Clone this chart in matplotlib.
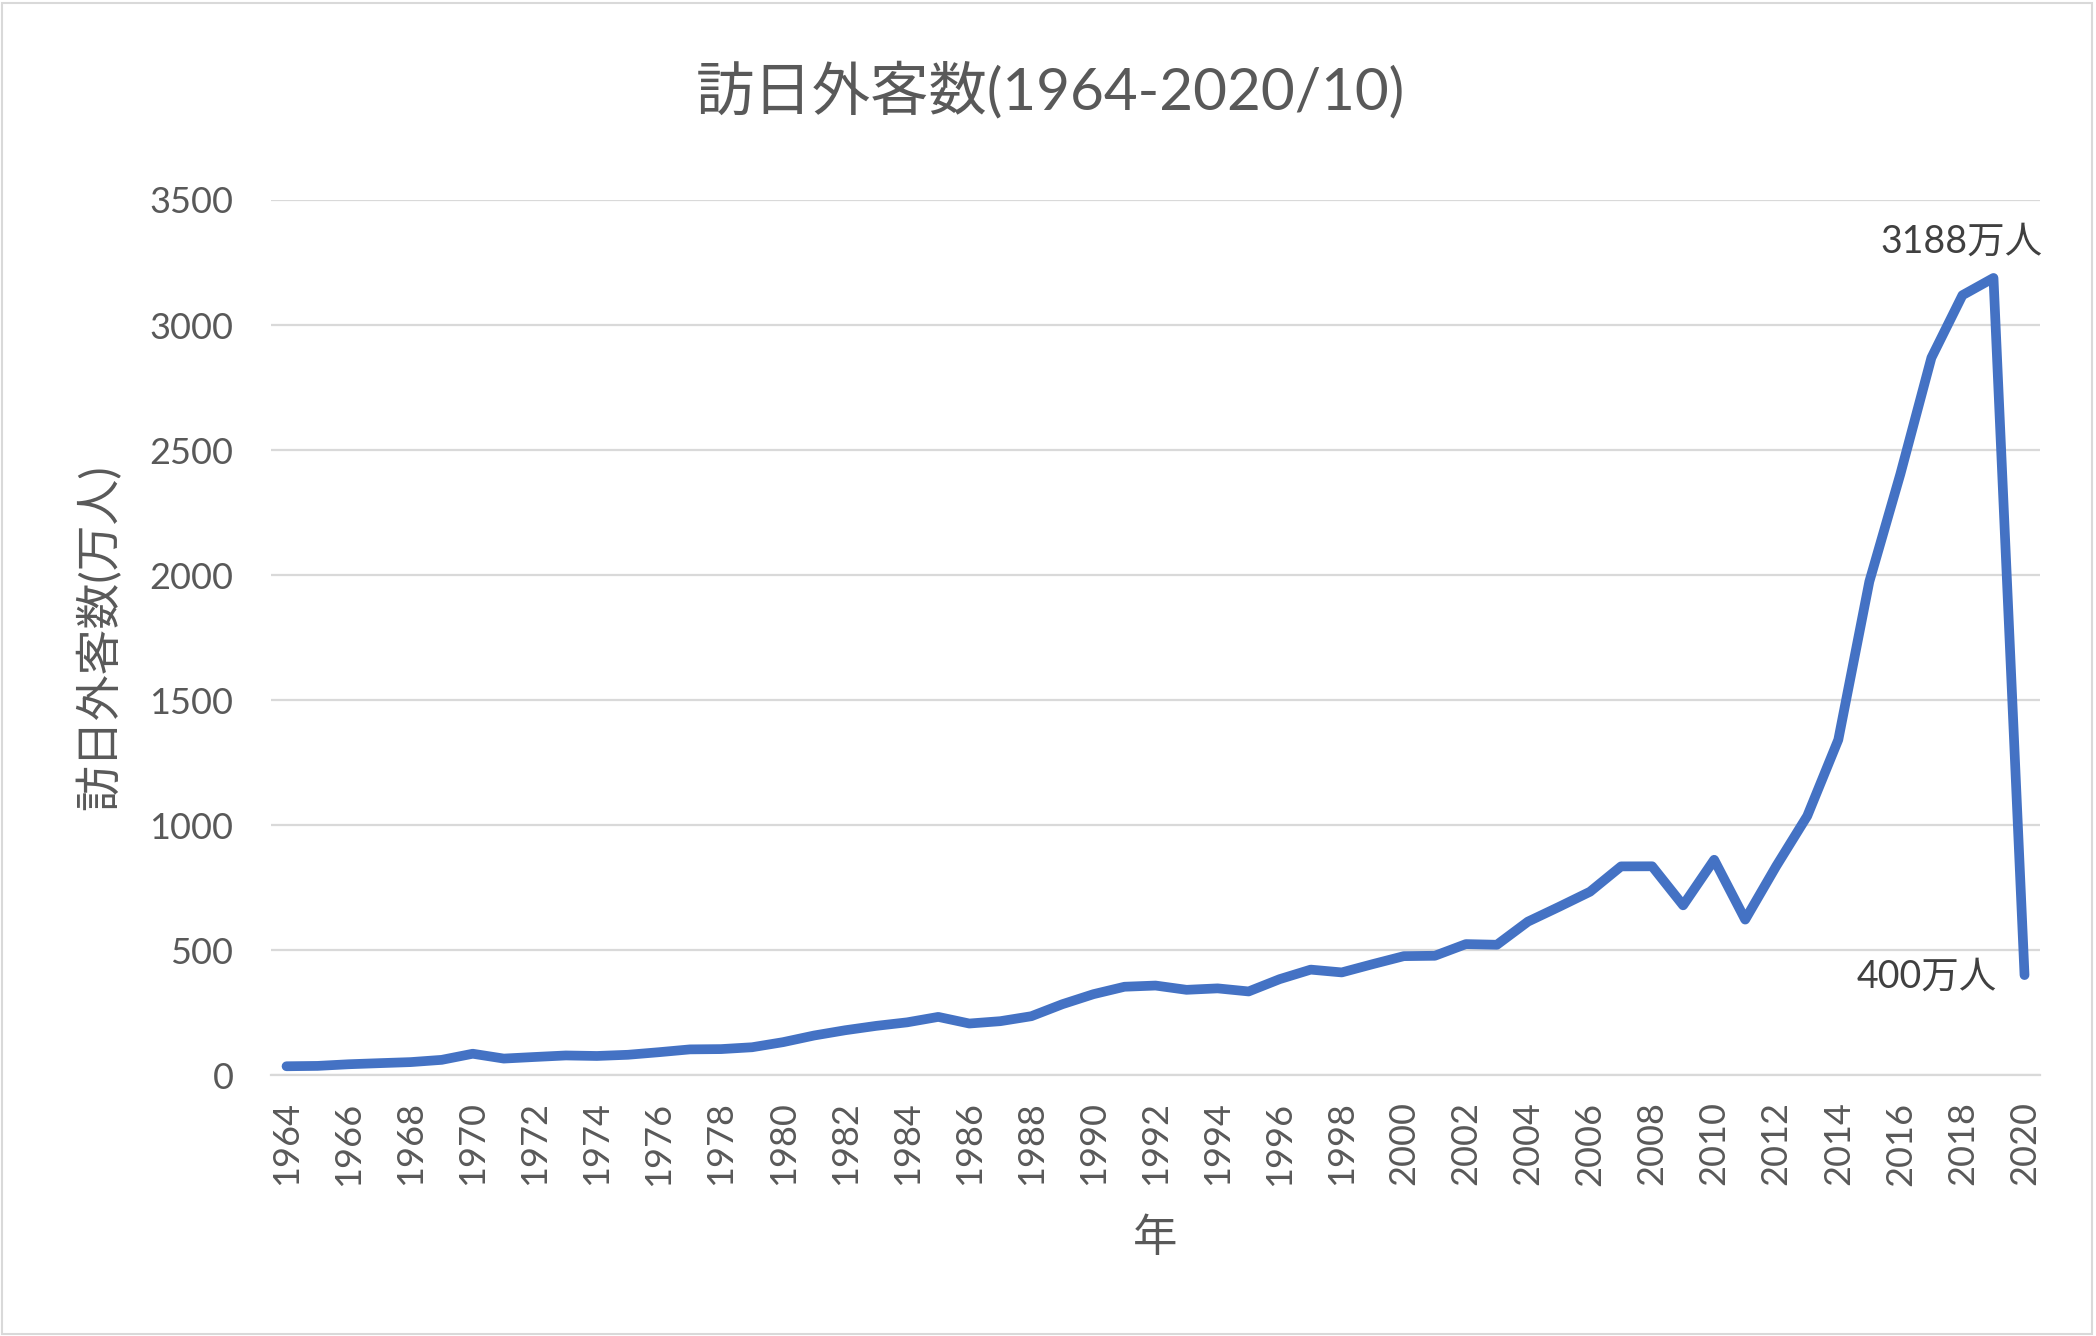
import matplotlib
matplotlib.use("Agg")
import matplotlib.pyplot as plt
from matplotlib.patches import Rectangle

plt.rcParams['font.family'] = ['Lato', 'Noto Sans CJK JP', 'DejaVu Sans']

years = list(range(1964, 2021))
visitors = [35.3, 36.7, 43.3, 47.7, 51.9, 60.9, 85.4, 66.0, 72.4, 78.5,
            76.4, 81.2, 91.5, 102.8, 103.9, 111.3, 131.7, 158.3, 179.3, 196.8,
            211.0, 232.7, 206.2, 215.6, 235.5, 283.5, 323.6, 353.3, 358.1, 341.0,
            346.8, 334.5, 383.7, 421.8, 410.6, 443.8, 475.7, 477.2, 523.9, 521.2,
            613.8, 672.8, 733.4, 834.7, 835.1, 679.0, 861.1, 621.9, 835.8, 1036.4,
            1341.3, 1973.7, 2404.0, 2869.1, 3119.2, 3188.2, 400.0]
yticks = [0, 500, 1000, 1500, 2000, 2500, 3000, 3500]
title = "訪日外客数(1964-2020/10)"
ylabel = "訪日外客数(万人)"
xlabel = "年"
peak_label = "3188万人"
last_label = "400万人"

text_color = "#595959"
grid_color = "#D9D9D9"
line_color = "#4472C4"

fig = plt.figure(figsize=(20.96, 13.36), dpi=100)
ax = fig.add_axes([0.1293, 0.1953, 0.9733 - 0.1293, 0.8503 - 0.1953])

x = list(range(len(years)))
ax.plot(x, visitors, color=line_color, lw=7, solid_joinstyle='round',
        solid_capstyle='round', zorder=3, clip_on=False)

ax.set_xlim(-0.5, len(years) - 0.5)
ax.set_ylim(0, 3500)
ax.set_yticks(yticks)
ax.set_yticklabels([str(v) for v in yticks])
ax.set_xticks(x[::2])
ax.set_xticklabels([str(y) for y in years[::2]], rotation=90)

ax.grid(axis='y', color=grid_color, lw=1.6)
ax.set_axisbelow(True)
for s in ['top', 'right', 'left']:
    ax.spines[s].set_visible(False)
ax.spines['bottom'].set_color(grid_color)
ax.spines['bottom'].set_linewidth(1.6)
ax.tick_params(axis='both', length=0, colors=text_color, labelsize=26)
ax.tick_params(axis='y', pad=27)
ax.tick_params(axis='x', pad=19)

ax.set_ylabel(ylabel, fontsize=33, color=text_color, labelpad=20)
ax.set_xlabel(xlabel, fontsize=32, color=text_color, labelpad=23)

fig.text(0.501, 0.932, title, ha='center', va='center', fontsize=42, color=text_color)

i_peak = years.index(2019)
ax.annotate(peak_label, (i_peak, visitors[i_peak]), xytext=(-32, 36),
            textcoords='offset pixels', ha='center', va='center',
            fontsize=27, color="#404040")
i_last = years.index(2020)
ax.annotate(last_label, (i_last, visitors[i_last]), xytext=(-28, -2),
            textcoords='offset pixels', ha='right', va='center',
            fontsize=27, color="#404040")

fig.patches.append(Rectangle((0.001, 0.0015), 0.997, 0.996, transform=fig.transFigure,
                             fill=False, edgecolor=grid_color, lw=1.5))

fig.savefig("out.png", dpi=100, facecolor='white')
